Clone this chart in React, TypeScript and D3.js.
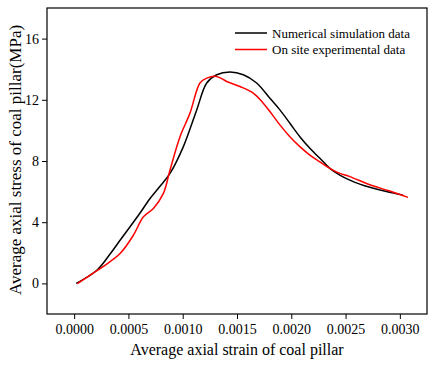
import React, { useEffect, useRef } from 'react';
import * as d3 from 'd3';

// strain values are in units of 1e-3, stress in MPa
const simStrain = [0.02, 0.209, 0.331, 0.423, 0.515, 0.607, 0.699, 0.791, 0.883, 1.006, 1.129, 1.221, 1.313, 1.435, 1.558, 1.681, 1.803, 1.895, 1.987, 2.079, 2.171, 2.263, 2.355, 2.447, 2.539, 2.631, 2.723, 2.876, 3.029];
const simStress = [0, 0.86, 1.92, 2.82, 3.7, 4.6, 5.55, 6.35, 7.19, 8.94, 11.34, 13.1, 13.64, 13.82, 13.64, 13.1, 12.1, 11.34, 10.47, 9.59, 8.83, 8.18, 7.52, 7.08, 6.75, 6.49, 6.28, 6.0, 5.77];

const expStrain = [0.03, 0.15, 0.27, 0.423, 0.546, 0.638, 0.73, 0.822, 0.883, 0.975, 1.067, 1.159, 1.221, 1.313, 1.405, 1.527, 1.65, 1.742, 1.803, 1.895, 1.987, 2.079, 2.171, 2.263, 2.355, 2.447, 2.539, 2.723, 2.9, 3.075];
const expStress = [-0.02, 0.56, 1.12, 1.95, 3.15, 4.35, 4.9, 5.88, 7.41, 9.59, 11.13, 13.1, 13.42, 13.53, 13.2, 12.87, 12.44, 11.78, 11.23, 10.36, 9.59, 8.94, 8.39, 7.95, 7.52, 7.19, 6.98, 6.45, 6.05, 5.62];

const xTicks = [0, 0.0005, 0.001, 0.0015, 0.002, 0.0025, 0.003];
const yTicks = [0, 4, 8, 12, 16];
const seriesNames = ['Numerical simulation data', 'On site experimental data'];
const seriesColors = ['#000000', '#ff0000'];

const App = () => {
  const ref = useRef<SVGSVGElement>(null);

  useEffect(() => {
    const svg = d3.select(ref.current);
    svg.selectAll('*').remove();

    const margin = { top: 8, left: 47, right: 9, bottom: 55 };
    const W = 436, H = 369;
    const w = W - margin.left - margin.right;
    const h = H - margin.top - margin.bottom;
    const font = '"Liberation Serif", "Times New Roman", serif';

    const x = d3.scaleLinear().domain([-0.00025, 0.00325]).range([0, w]);
    const y = d3.scaleLinear().domain([-2, 18]).range([h, 0]);

    const g = svg.append('g').attr('transform', `translate(${margin.left},${margin.top})`);

    const xAxis = g.append('g').attr('transform', `translate(0,${h})`)
      .call(d3.axisBottom(x).tickValues(xTicks).tickFormat(d3.format('.4f')).tickSize(5).tickSizeOuter(0));
    const yAxis = g.append('g')
      .call(d3.axisLeft(y).tickValues(yTicks).tickFormat(d3.format('d')).tickSize(5).tickSizeOuter(0));
    [xAxis, yAxis].forEach(a => {
      a.select('.domain').remove();
      a.selectAll('text').style('font-family', font).style('font-size', '14px').attr('fill', '#000');
      a.selectAll('line').attr('stroke', '#000');
    });
    xAxis.selectAll('text').attr('dy', '0.85em');

    g.append('rect').attr('width', w).attr('height', h)
      .attr('fill', 'none').attr('stroke', '#000').attr('stroke-width', 1.2);

    const line = d3.line<[number, number]>()
      .x(d => x(d[0] / 1000)).y(d => y(d[1]))
      .curve(d3.curveCatmullRom.alpha(0.5));

    const series = [
      simStrain.map((s, i) => [s, simStress[i]] as [number, number]),
      expStrain.map((s, i) => [s, expStress[i]] as [number, number]),
    ];
    series.forEach((pts, i) => {
      g.append('path').datum(pts).attr('d', line)
        .attr('fill', 'none').attr('stroke', seriesColors[i]).attr('stroke-width', 1.5);
    });

    const leg = g.append('g').attr('transform', `translate(188,25)`);
    seriesNames.forEach((name, i) => {
      leg.append('line').attr('x1', 0).attr('x2', 32).attr('y1', i * 16.5).attr('y2', i * 16.5)
        .attr('stroke', seriesColors[i]).attr('stroke-width', 1.5);
      leg.append('text').attr('x', 37).attr('y', i * 16.5 + 4.5)
        .style('font-family', font).style('font-size', '13px').text(name);
    });

    svg.append('text').attr('x', margin.left + w / 2).attr('y', 355)
      .attr('text-anchor', 'middle').style('font-family', font).style('font-size', '16px')
      .text('Average axial strain of coal pillar');

    svg.append('text').attr('transform', `translate(21,${margin.top + h / 2 - 1}) rotate(-90)`)
      .attr('text-anchor', 'middle').style('font-family', font).style('font-size', '17px')
      .text('Average axial stress of coal pillar(MPa)');
  }, []);

  return <svg ref={ref} width={436} height={369} style={{ position: 'absolute', left: 0, top: 0, background: '#fff' }} />;
};

export default App;
